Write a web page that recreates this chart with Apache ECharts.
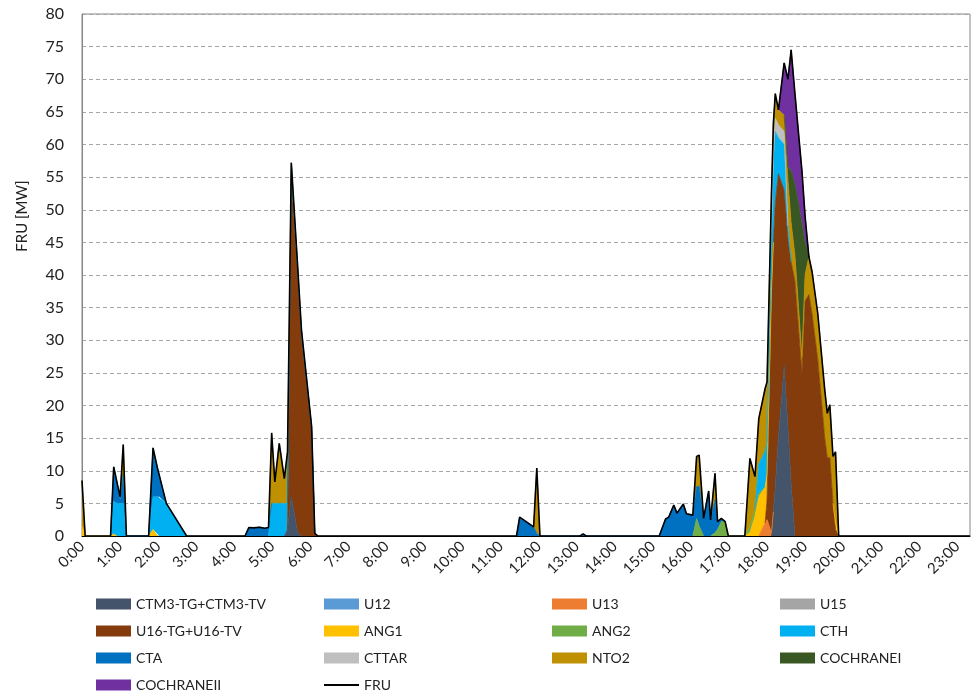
<!DOCTYPE html>
<html><head><meta charset="utf-8">
<script src="https://cdn.jsdelivr.net/npm/echarts@6/dist/echarts.min.js"></script>
<style>html,body{margin:0;padding:0;background:#fff}#c{width:973px;height:698px}</style>
</head><body><div id="c"></div>
<script>
// time in minutes after 0:00 (shared sample times)
const times = [0,5,45,50,55,60,65,70,105,112,119,122,133,165,257,263,270,280,288,294,299,304,311,319,324,330,340,346,362,367,372,
  685,690,712,717,722,785,790,795,910,920,925,933,938,948,953,963,969,973,980,988,991,998,1002,1008,1014,1019,
  1045,1053,1061,1067,1077,1080,1087,1090,1093,1098,1107,1113,1118,1124,1135,1140,1146,1151,1160,1171,1175,1179,1184,1188,1193,1400];

// each series: [minute, MW] (unlisted times = 0)
const CTM3 = [[324,1],[330,6],[340,0.5],[1090,3.7],[1093,7.5],[1098,15],[1107,26],[1113,16.5],[1118,8]];
const U12 = [];
const U13 = [[1077,2],[1080,2.5],[1087,0.5]];
const U15 = [];
const U16 = [[330,49],[340,39.5],[346,30.4],[362,16.3],[367,0.4],[1080,3],[1087,36.5],[1090,41.3],[1093,43.5],[1098,40.5],[1107,27],[1113,29],[1118,34],[1124,39],[1135,25],[1140,36],[1146,37],[1151,34],[1160,27],[1171,15],[1175,12],[1179,12],[1184,5],[1188,1]];
const ANG1 = [[0,1.5],[50,0.3],[112,1],[1053,0.5],[1061,3],[1067,6],[1077,5.5],[1080,4],[1087,0.5],[1188,1]];
const ANG2 = [[969,2.7],[973,1.5],[998,0.5],[1002,1],[1008,2.2],[1014,2.2],[1053,1],[1061,1],[1067,0.5]];
const CTH = [[50,5],[55,5],[60,5],[65,5],[112,5],[119,6],[122,6],[133,5],[299,5],[304,5],[311,5],[319,5],[324,4],[330,1],[340,0.8],[346,0.7],[362,0.3],[1067,4.5],[1077,5.5],[1080,5],[1087,9],[1090,12],[1093,11],[1098,5.5],[1107,7],[1113,2]];
const CTA = [[50,5.3],[55,3.3],[60,0.5],[65,4.5],[112,7.5],[119,4.4],[122,4.3],[263,1.3],[270,1.25],[280,1.35],[288,1.2],[294,1.3],[330,1.2],[340,0.5],[346,0.5],[362,0.2],[690,2.9],[712,1.4],[717,0.4],[790,0.3],[920,2.6],[925,2.9],[933,4.75],[938,3.5],[948,4.9],[953,3.4],[963,3.2],[969,4.9],[973,6.1],[980,2.7],[988,6.9],[991,2.45],[998,5],[1002,1.2],[1008,0.5]];
const CTTAR = [[1090,1],[1093,2],[1098,2],[1107,2]];
const NTO2 = [[0,7],[60,0.5],[65,4.5],[299,10.8],[304,3.3],[311,9.2],[319,3.8],[324,7.9],[717,10],[969,4.6],[973,4.8],[998,4.1],[1053,10.4],[1061,5.1],[1067,7],[1077,9.6],[1080,9.1],[1087,6.5],[1090,5.2],[1093,3.8],[1098,2.3],[1107,2.5],[1113,7],[1118,6],[1124,4],[1135,2.5],[1140,4],[1146,5.8],[1151,6.5],[1160,7.1],[1171,7.4],[1175,6.8],[1179,8.1],[1184,7.2],[1188,10.9]];
const COCHI = [[1113,2],[1118,8],[1124,11],[1135,20.5],[1140,5]];
const COCHII = [[1107,8],[1113,13.5],[1118,18.5],[1124,13.8],[1135,8],[1140,4]];
const FRU = [[0,8.5],[50,10.6],[55,8.3],[60,6],[65,14],[112,13.5],[119,10.4],[122,10.3],[133,5],[263,1.3],[270,1.25],[280,1.35],[288,1.2],[294,1.3],[299,15.8],[304,8.3],[311,14.2],[319,8.8],[324,12.9],[330,57.2],[340,41.3],[346,31.6],[362,16.8],[367,0.4],[690,2.9],[712,1.4],[717,10.4],[790,0.3],[920,2.6],[925,2.9],[933,4.75],[938,3.5],[948,4.9],[953,3.4],[963,3.2],[969,12.2],[973,12.4],[980,2.7],[988,6.9],[991,2.45],[998,9.6],[1002,2.2],[1008,2.7],[1014,2.2],[1053,11.9],[1061,9.1],[1067,18],[1077,22.6],[1080,23.6],[1087,52.5],[1090,63.2],[1093,67.8],[1098,65.3],[1107,72.5],[1113,70],[1118,74.5],[1124,67.8],[1135,56],[1140,49],[1146,42.8],[1151,40.5],[1160,34.1],[1171,22.4],[1175,18.8],[1179,20.1],[1184,12.2],[1188,12.9]];

const seriesNames = ['CTM3-TG+CTM3-TV','U12','U13','U15','U16-TG+U16-TV','ANG1','ANG2','CTH','CTA','CTTAR','NTO2','COCHRANEI','COCHRANEII'];
const seriesData = [CTM3,U12,U13,U15,U16,ANG1,ANG2,CTH,CTA,CTTAR,NTO2,COCHI,COCHII];
const colors = ['#44546A','#5B9BD5','#ED7D31','#A5A5A5','#843C0C','#FFC000','#70AD47','#00B0F0','#0070C0','#BFBFBF','#BF9000','#385723','#7030A0'];

// rows are [MW, minute] so that the value (y) dimension is the stacked one
const dense = pts => { const m = new Map(pts); return times.map(t => (m.has(t) ? m.get(t) : 0)); };
// zeros that are not next to a non-zero value become gaps, so no edge is stroked there
const toRows = vals => vals.map((v, i) => {
  const keep = v !== 0 || (i > 0 && vals[i - 1] !== 0) || (i < vals.length - 1 && vals[i + 1] !== 0);
  return [keep ? v : null, times[i]];
});
const FF = 'Lato, "Liberation Sans", sans-serif';

const series = seriesNames.map((name, i) => ({
  type: 'line', name, stack: 'total', data: toRows(dense(seriesData[i])), encode: { x: 1, y: 0 },
  symbol: 'none', showSymbol: false, silent: true, connectNulls: false,
  lineStyle: { width: 0.8, color: colors[i] }, itemStyle: { color: colors[i] },
  areaStyle: { color: colors[i], opacity: 1 }, emphasis: { disabled: true }, z: 2
}));
series.push({
  type: 'line', name: 'FRU', data: dense(FRU).map((v, i) => [v, times[i]]), encode: { x: 1, y: 0 },
  symbol: 'none', showSymbol: false, silent: true,
  lineStyle: { color: '#000', width: 1.6 }, itemStyle: { color: '#000' }, emphasis: { disabled: true }, z: 5
});

const legBase = { orient: 'vertical', top: 596, padding: 0, itemWidth: 35, itemHeight: 11, itemGap: 11,
  selectedMode: false, textStyle: { fontFamily: FF, fontSize: 14, color: '#222', lineHeight: 16 } };
const rectItem = n => ({ name: n, icon: 'rect' });

const option = {
  animation: false,
  backgroundColor: '#fff',
  grid: { left: 82, right: 3, top: 14, bottom: 162, show: true, borderColor: '#868686', borderWidth: 1 },
  xAxis: {
    type: 'value', min: 0, max: 1400, interval: 60,
    axisLine: { show: true, lineStyle: { color: '#000', width: 1 } },
    axisTick: { show: false }, splitLine: { show: false },
    axisLabel: { rotate: 45, margin: 8, fontFamily: FF, fontSize: 15, color: '#222', showMaxLabel: false,
      formatter: v => (v % 60 === 0 ? (v / 60) + ':00' : '') }
  },
  yAxis: {
    type: 'value', min: 0, max: 80, interval: 5,
    name: 'FRU [MW]', nameLocation: 'middle', nameGap: 52, nameRotate: 90,
    nameTextStyle: { fontFamily: FF, fontSize: 15, color: '#222', padding: [0, 0, 0, 118] },
    axisLine: { show: true, lineStyle: { color: '#868686' } }, axisTick: { show: false },
    axisLabel: { fontFamily: FF, fontSize: 16, color: '#222', margin: 18 },
    splitLine: { show: true, lineStyle: { color: '#A6A6A6', type: [4, 3], width: 1 } }
  },
  legend: [
    Object.assign({}, legBase, { left: 96, data: [rectItem('CTM3-TG+CTM3-TV'), rectItem('U16-TG+U16-TV'), rectItem('CTA'), rectItem('COCHRANEII')] }),
    Object.assign({}, legBase, { left: 324, data: [rectItem('U12'), rectItem('ANG1'), rectItem('CTTAR'), { name: 'FRU', icon: 'path://M0,0 L35,0 L35,2 L0,2 Z' }] }),
    Object.assign({}, legBase, { left: 552, data: [rectItem('U13'), rectItem('ANG2'), rectItem('NTO2')] }),
    Object.assign({}, legBase, { left: 780, data: [rectItem('U15'), rectItem('CTH'), rectItem('COCHRANEI')] })
  ],
  series
};
echarts.init(document.getElementById('c')).setOption(option);
</script></body></html>
